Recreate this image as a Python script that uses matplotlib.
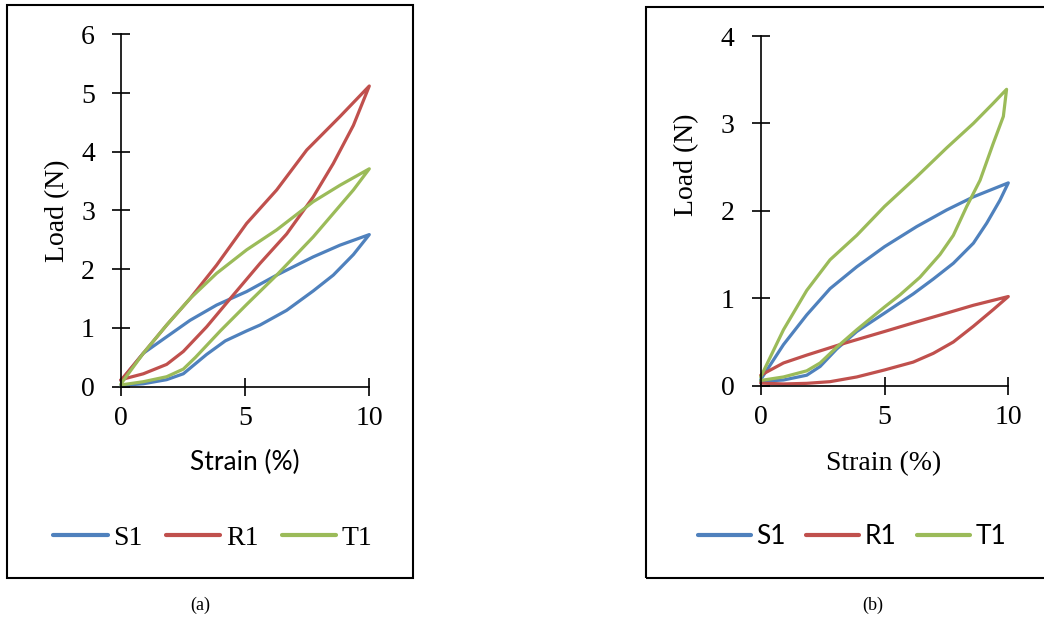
import matplotlib
matplotlib.use('Agg')
import matplotlib.pyplot as plt
from matplotlib.patches import Rectangle

# ---------------- data ----------------
# Panel (a)
a_S1_strain = [0, 0.9, 1.84, 2.78, 3.85, 5.06, 6.27, 7.74, 8.82, 10,
               9.36, 8.55, 7.74, 6.67, 5.6, 5.06, 4.2, 3.45, 2.51, 1.84, 0.9, 0]
a_S1_load = [0.10, 0.57, 0.85, 1.13, 1.39, 1.62, 1.90, 2.21, 2.41, 2.59,
             2.25, 1.90, 1.63, 1.30, 1.05, 0.95, 0.78, 0.55, 0.22, 0.12, 0.05, 0.02]

a_R1_strain = [0, 0.9, 1.84, 2.78, 3.85, 5.06, 6.27, 7.48, 8.82, 10,
               9.36, 8.55, 7.74, 6.67, 5.6, 4.52, 3.45, 2.51, 1.84, 0.9, 0]
a_R1_load = [0.11, 0.57, 1.05, 1.50, 2.07, 2.78, 3.35, 4.03, 4.60, 5.12,
             4.45, 3.80, 3.23, 2.60, 2.10, 1.56, 1.02, 0.60, 0.38, 0.22, 0.12]

a_T1_strain = [0, 0.9, 1.84, 2.78, 3.85, 5.06, 6.27, 7.74, 8.82, 10,
               9.36, 8.55, 7.74, 6.27, 5.06, 4.0, 3.0, 2.51, 1.84, 0.9, 0]
a_T1_load = [0.05, 0.57, 1.05, 1.50, 1.93, 2.33, 2.67, 3.15, 3.43, 3.71,
             3.35, 2.95, 2.55, 1.90, 1.40, 0.95, 0.50, 0.30, 0.17, 0.085, 0.03]

# Panel (b)
b_S1_strain = [0, 0.92, 1.86, 2.8, 3.88, 5, 6.3, 7.51, 8.59, 10,
               9.66, 9.13, 8.59, 7.78, 6.97, 6.16, 5, 3.88, 3.07, 2.4, 1.86, 0.92, 0]
b_S1_load = [0.07, 0.47, 0.81, 1.11, 1.36, 1.59, 1.82, 2.01, 2.16, 2.32,
             2.12, 1.86, 1.63, 1.40, 1.22, 1.05, 0.83, 0.62, 0.42, 0.22, 0.12, 0.065, 0.05]

b_R1_strain = [0, 0.92, 1.86, 3.2, 5, 6.3, 7.51, 8.59, 10,
               9.39, 8.59, 7.78, 6.97, 6.16, 5, 3.88, 2.8, 1.86, 0.92, 0]
b_R1_load = [0.12, 0.26, 0.35, 0.47, 0.62, 0.73, 0.83, 0.92, 1.02,
             0.87, 0.68, 0.50, 0.37, 0.27, 0.18, 0.10, 0.046, 0.027, 0.02, 0.03]

b_T1_strain = [0, 0.92, 1.86, 2.8, 3.88, 5, 6.3, 7.51, 8.59, 9.39, 9.93,
               9.8, 9.39, 8.86, 8.32, 7.78, 7.24, 6.43, 5.63, 5, 3.88, 3.07, 2.4, 1.86, 0.92, 0]
b_T1_load = [0.10, 0.64, 1.09, 1.44, 1.72, 2.05, 2.39, 2.72, 3.00, 3.23, 3.39,
             3.08, 2.77, 2.35, 2.05, 1.72, 1.50, 1.24, 1.04, 0.90, 0.64, 0.44, 0.26, 0.17, 0.10, 0.06]

series_names = ["S1", "R1", "T1"]
colors = ["#4F81BD", "#C0504D", "#9BBB59"]
x_ticks = [0, 5, 10]
a_y_ticks = [0, 1, 2, 3, 4, 5, 6]
b_y_ticks = [0, 1, 2, 3, 4]

SERIF = "Liberation Serif"
SANS = "Lato"

W, H = 1044, 622
fig = plt.figure(figsize=(W / 100, H / 100), dpi=100)


def fxy(px, py):
    return px / W, 1 - py / H


# frames
fig.patches.append(Rectangle(fxy(7, 578), (413 - 7) / W, (578 - 5) / H, transform=fig.transFigure,
                             fill=False, edgecolor="black", linewidth=1.5))
fig.patches.append(Rectangle(fxy(646, 578), (1070 - 646) / W, (578 - 7) / H, transform=fig.transFigure,
                             fill=False, edgecolor="black", linewidth=1.5))

axA = fig.add_axes([121 / W, 1 - 386.7 / H, 248.3 / W, 352.4 / H])
axB = fig.add_axes([760.7 / W, 1 - 385.7 / H, 247.6 / W, 349.7 / H])


def style(ax, yticks):
    ax.set_xlim(0, 10)
    ax.set_ylim(0, yticks[-1])
    for s in ["top", "right"]:
        ax.spines[s].set_visible(False)
    for s in ["left", "bottom"]:
        ax.spines[s].set_linewidth(1.2)
        ax.spines[s].set_color("black")
    ax.set_xticks(x_ticks)
    ax.set_yticks(yticks)
    ax.tick_params(axis="both", direction="inout", length=12.5, width=1.2, color="black",
                   labelsize=20)
    ax.tick_params(axis="y", pad=12.5)
    ax.tick_params(axis="x", pad=8)
    for lab in ax.get_xticklabels() + ax.get_yticklabels():
        lab.set_fontfamily(SERIF)
    ax.patch.set_alpha(0)


style(axA, a_y_ticks)
style(axB, b_y_ticks)

a_data = [(a_S1_strain, a_S1_load), (a_R1_strain, a_R1_load), (a_T1_strain, a_T1_load)]
b_data = [(b_S1_strain, b_S1_load), (b_R1_strain, b_R1_load), (b_T1_strain, b_T1_load)]

handlesA, handlesB = [], []
for (xs, ys), name, c in zip(a_data, series_names, colors):
    h, = axA.plot(xs, ys, color=c, lw=2.3, label=name, clip_on=False,
                  solid_joinstyle="round", solid_capstyle="round")
    handlesA.append(h)
for (xs, ys), name, c in zip(b_data, series_names, colors):
    h, = axB.plot(xs, ys, color=c, lw=2.3, label=name, clip_on=False,
                  solid_joinstyle="round", solid_capstyle="round")
    handlesB.append(h)

# axis titles
fig.text(*fxy(58, 211), "Load (N)", rotation=90, ha="center", va="center",
         fontfamily=SERIF, fontsize=20)
fig.text(*fxy(687, 165), "Load (N)", rotation=90, ha="center", va="center",
         fontfamily=SERIF, fontsize=20)
fig.text(*fxy(245, 462), "Strain (%)", ha="center", va="center",
         fontfamily=SANS, fontsize=19)
fig.text(*fxy(884, 464), "Strain (%)", ha="center", va="center",
         fontfamily=SERIF, fontsize=20)

# legends
legA = fig.legend(handlesA, series_names, loc="center", bbox_to_anchor=fxy(213, 538),
                  bbox_transform=fig.transFigure, ncol=3, frameon=False,
                  handlelength=1.95, handletextpad=0.2, columnspacing=0.85,
                  prop={"family": SERIF, "size": 20})
legB = fig.legend(handlesB, series_names, loc="center", bbox_to_anchor=fxy(852, 537),
                  bbox_transform=fig.transFigure, ncol=3, frameon=False,
                  handlelength=2.0, handletextpad=0.2, columnspacing=0.8,
                  prop={"family": SANS, "size": 19})
for leg in (legA, legB):
    for ln in leg.get_lines():
        ln.set_linewidth(3)
        ln.set_solid_capstyle("round")

# captions
fig.text(*fxy(200, 605), "(a)", ha="center", va="center", fontfamily=SERIF, fontsize=13)
fig.text(*fxy(873, 605), "(b)", ha="center", va="center", fontfamily=SERIF, fontsize=13)

fig.savefig("out.png", dpi=100)
